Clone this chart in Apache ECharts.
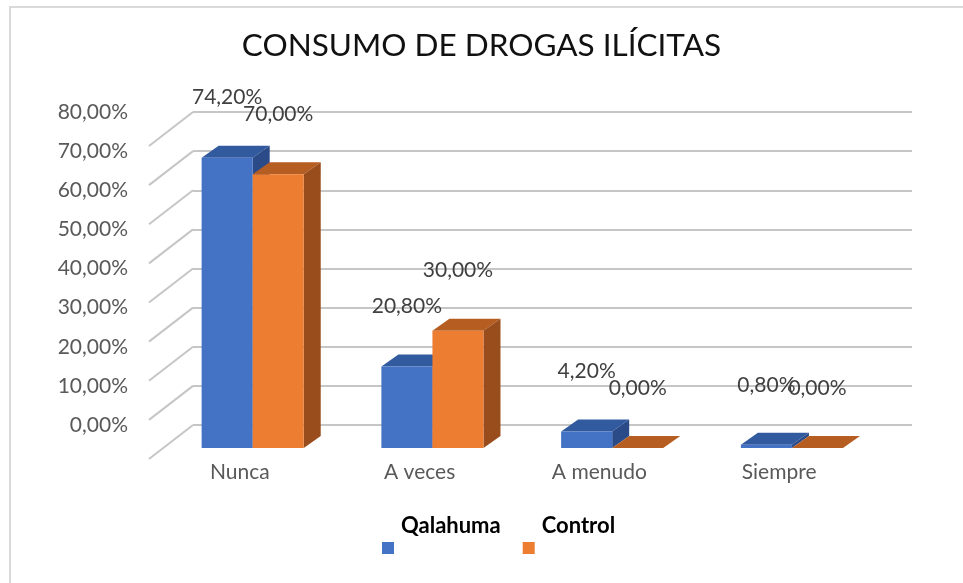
<!DOCTYPE html>
<html>
<head>
<meta charset="utf-8">
<script src="https://cdn.jsdelivr.net/npm/echarts@6/dist/echarts.min.js"></script>
<style>html,body{margin:0;padding:0;background:#fff;}#c{width:963px;height:583px;}</style>
</head>
<body>
<div id="c"></div>
<script>
var categories = ['Nunca', 'A veces', 'A menudo', 'Siempre'];
var seriesNames = ['Qalahuma', 'Control'];
var qalahuma = [74.2, 20.8, 4.2, 0.8];
var control = [70.0, 30.0, 0.0, 0.0];
var yTicks = [0, 10, 20, 30, 40, 50, 60, 70, 80];

var FONT = 'Lato';
var colors = [
  {front: '#4472C4', top: '#325A9E', side: '#2B4B88'},
  {front: '#ED7D31', top: '#B65D22', side: '#9A4D1C'}
];

function fmt(v) { return v.toFixed(2).replace('.', ',') + '%'; }

function barRender(s) {
  return function (params, api) {
    var idx = api.value(0), val = api.value(1);
    var band = api.size([1, 0])[0];
    var c = api.coord([idx, val]);
    var b = api.coord([idx, 0]);
    var dy = 23, ddx = 17, ddy = -12;
    var W = band * 0.284;
    var x0 = c[0] - band * 0.452 + s * W;
    var yTop = c[1] + dy, yBot = b[1] + dy;
    var col = colors[s];
    var children = [
      {type: 'polygon', shape: {points: [[x0, yTop], [x0 + W, yTop], [x0 + W + ddx, yTop + ddy], [x0 + ddx, yTop + ddy]]}, style: {fill: col.top}},
      {type: 'polygon', shape: {points: [[x0 + W, yTop], [x0 + W + ddx, yTop + ddy], [x0 + W + ddx, yBot + ddy], [x0 + W, yBot]]}, style: {fill: col.side}}
    ];
    if (yBot - yTop > 0.3) {
      children.push({type: 'rect', shape: {x: x0, y: yTop, width: W, height: yBot - yTop}, style: {fill: col.front}});
    }
    children.push({type: 'text', x: x0 + W / 2, y: yTop - 60, style: {text: fmt(val), fill: '#404040', font: '21px ' + FONT, align: 'center', verticalAlign: 'middle'}});
    return {type: 'group', children: children};
  };
}

var chart = echarts.init(document.getElementById('c'), null, {renderer: 'canvas'});
chart.setOption({
  animation: false,
  backgroundColor: '#fff',
  title: {text: 'CONSUMO DE DROGAS ILÍCITAS', left: 'center', top: 25,
    textStyle: {fontFamily: FONT, fontSize: 31.5, fontWeight: 'normal', color: '#111'}},
  graphic: [
    {type: 'polyline', shape: {points: [[10, 583], [10, 7], [963, 7]]}, style: {stroke: '#d9d9d9', lineWidth: 2, fill: null}}
  ],
  legend: {
    data: seriesNames, left: 377, top: 510, icon: 'rect', itemWidth: 12, itemHeight: 12, itemGap: 22,
    formatter: '{t|{name}}',
    textStyle: {fontFamily: FONT, fontSize: 22, fontWeight: 'bold', color: '#000',
      rich: {t: {fontFamily: FONT, fontSize: 22, fontWeight: 'bold', color: '#000', padding: [0, 0, 44, 2]}}}
  },
  grid: {left: 193, right: 51, top: 112, bottom: 158},
  xAxis: {type: 'category', data: categories,
    axisLine: {show: false}, axisTick: {show: false},
    axisLabel: {margin: 37, fontFamily: FONT, fontSize: 21, color: '#595959', padding: [0, 86, 0, 0]}},
  yAxis: {type: 'value', min: 0, max: 80, interval: 10,
    axisLine: {show: false}, axisTick: {show: false},
    axisLabel: {margin: 65, fontFamily: FONT, fontSize: 21, color: '#595959', formatter: function (v) { return fmt(v); }},
    splitLine: {lineStyle: {color: '#c6c6c6', width: 2}}},
  series: [
    {type: 'custom', name: 'diag', silent: true, data: yTicks.map(function (t) { return [0, t]; }),
      renderItem: function (params, api) {
        var p = api.coord([0, api.value(1)]);
        var x = params.coordSys.x;
        return {type: 'line', shape: {x1: x, y1: p[1], x2: x - 44, y2: p[1] + 34}, style: {stroke: '#c6c6c6', lineWidth: 2}};
      }, z: 1},
    {type: 'custom', name: seriesNames[0], itemStyle: {color: colors[0].front},
      data: qalahuma.map(function (v, i) { return [i, v]; }), renderItem: barRender(0), z: 2},
    {type: 'custom', name: seriesNames[1], itemStyle: {color: colors[1].front},
      data: control.map(function (v, i) { return [i, v]; }), renderItem: barRender(1), z: 3}
  ]
});
</script>
</body>
</html>
